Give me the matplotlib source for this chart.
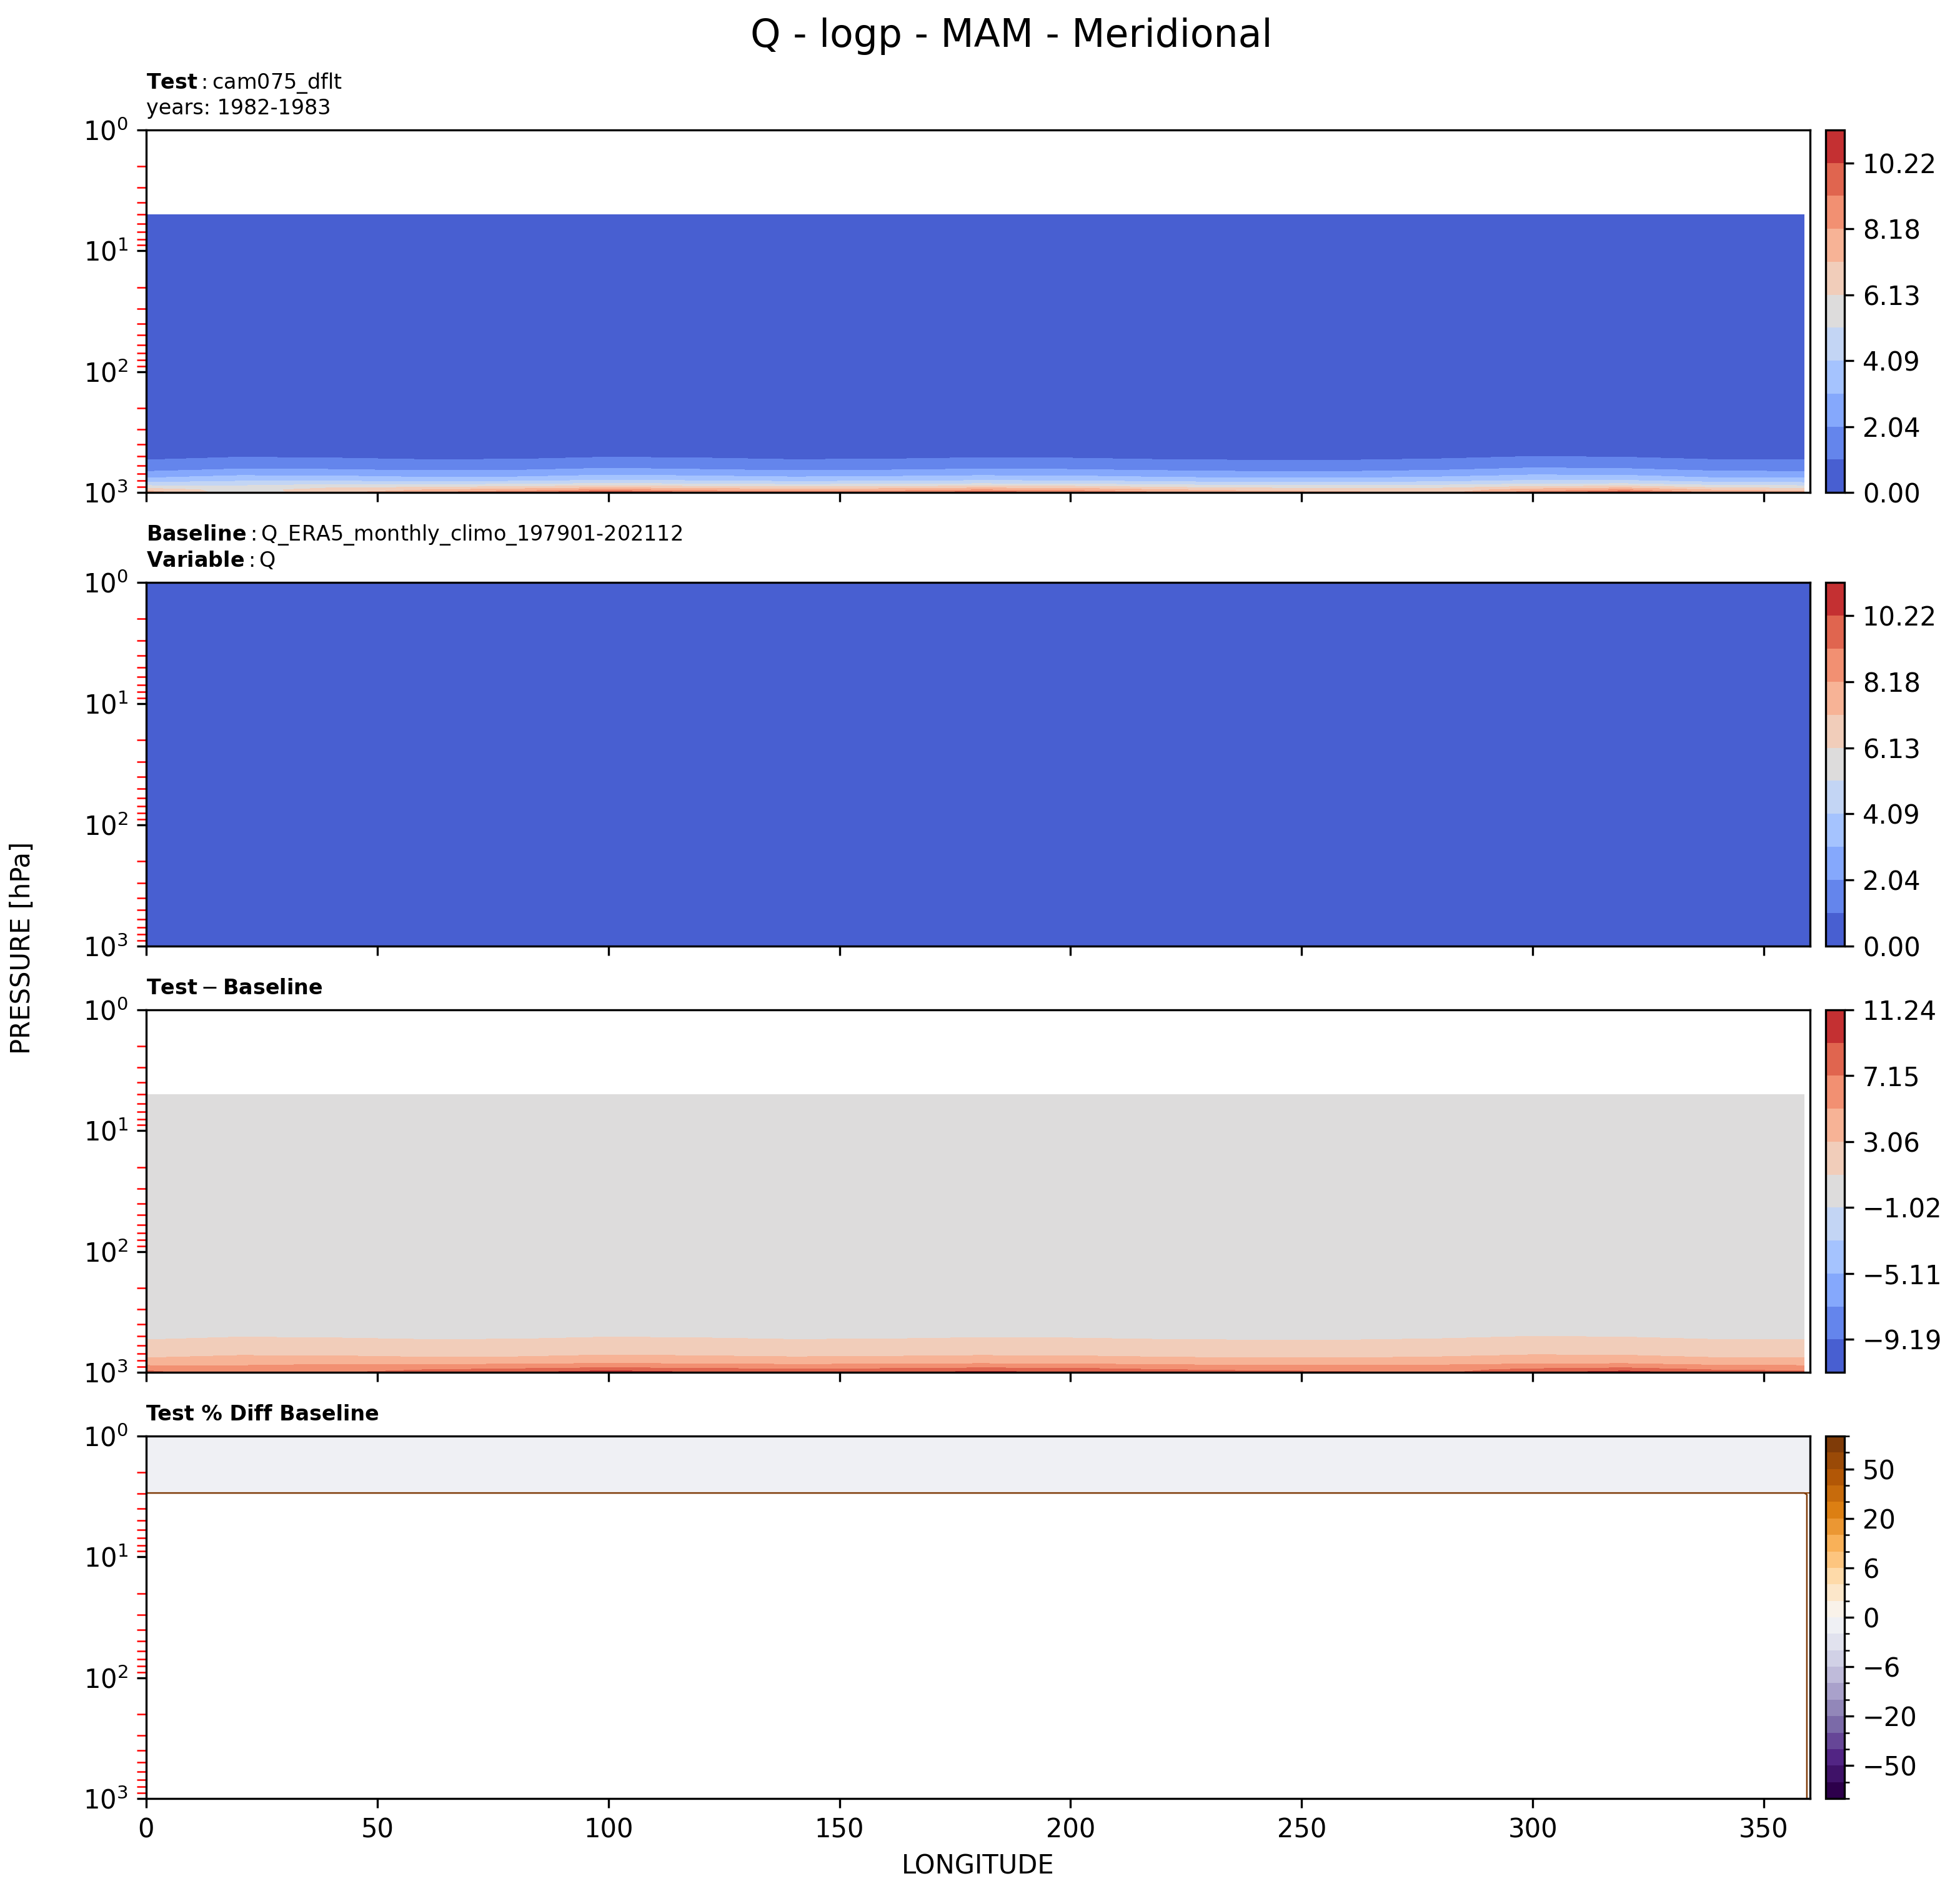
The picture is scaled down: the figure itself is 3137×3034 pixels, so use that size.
"""Meridional (longitude-pressure) section of specific humidity Q, MAM.

Test case vs ERA5 baseline, difference and percent difference.
"""

import sys

import numpy as np
import matplotlib
matplotlib.use("Agg")
import matplotlib.pyplot as plt
from matplotlib.colors import BoundaryNorm
from matplotlib.ticker import FuncFormatter

# --- test case (cam075_dflt), Q in g/kg -------------------------------------
test_lon = [0, 20, 40, 60, 80, 100, 120, 140, 160, 180,
            200, 220, 240, 260, 280, 300, 320, 340, 358.75]
test_lev = [5, 400, 500, 550, 600, 650, 700, 750, 800, 850, 900, 950, 1000]
# one list per longitude, values from 5 hPa down to 1000 hPa
test_q_by_lon = [
    [0.003, 0.35, 0.75, 1.11, 1.48, 1.85, 2.34, 2.95, 3.62, 4.51, 5.62, 6.75, 7.90],
    [0.003, 0.45, 0.95, 1.30, 1.70, 2.15, 2.75, 3.40, 4.00, 4.70, 5.40, 5.70, 5.30],
    [0.003, 0.42, 0.90, 1.25, 1.65, 2.10, 2.70, 3.35, 4.00, 4.95, 5.90, 6.60, 6.90],
    [0.003, 0.38, 0.82, 1.12, 1.52, 1.95, 2.50, 3.10, 3.85, 4.85, 6.00, 7.10, 8.20],
    [0.003, 0.38, 0.83, 1.14, 1.55, 2.00, 2.55, 3.15, 3.95, 5.00, 6.30, 7.60, 9.00],
    [0.003, 0.45, 0.95, 1.32, 1.75, 2.25, 2.85, 3.50, 4.25, 5.30, 6.70, 8.30, 10.60],
    [0.003, 0.42, 0.90, 1.25, 1.65, 2.10, 2.70, 3.35, 4.10, 5.10, 6.40, 7.80, 9.30],
    [0.003, 0.38, 0.82, 1.12, 1.52, 1.95, 2.50, 3.15, 3.90, 4.90, 6.20, 7.50, 8.80],
    [0.003, 0.40, 0.85, 1.15, 1.58, 2.02, 2.60, 3.25, 4.00, 5.00, 6.30, 7.70, 9.00],
    [0.003, 0.43, 0.92, 1.25, 1.68, 2.15, 2.75, 3.40, 4.15, 5.20, 6.60, 8.10, 9.80],
    [0.003, 0.42, 0.90, 1.22, 1.65, 2.10, 2.70, 3.35, 4.10, 5.10, 6.50, 7.90, 9.30],
    [0.003, 0.38, 0.82, 1.12, 1.52, 1.95, 2.50, 3.10, 3.85, 4.80, 6.00, 7.20, 8.30],
    [0.003, 0.36, 0.78, 1.08, 1.45, 1.85, 2.35, 2.95, 3.65, 4.55, 5.70, 6.80, 7.70],
    [0.003, 0.36, 0.78, 1.08, 1.45, 1.85, 2.35, 2.95, 3.65, 4.55, 5.70, 6.70, 7.40],
    [0.003, 0.40, 0.85, 1.18, 1.58, 2.00, 2.55, 3.15, 3.85, 4.70, 5.80, 6.60, 6.80],
    [0.003, 0.47, 1.00, 1.38, 1.80, 2.28, 2.88, 3.50, 4.20, 5.10, 6.30, 7.60, 8.80],
    [0.003, 0.45, 0.95, 1.30, 1.72, 2.20, 2.80, 3.45, 4.20, 5.20, 6.60, 8.20, 10.30],
    [0.003, 0.38, 0.80, 1.12, 1.50, 1.90, 2.42, 3.00, 3.70, 4.60, 5.80, 7.00, 8.00],
    [0.003, 0.36, 0.78, 1.10, 1.48, 1.85, 2.35, 2.95, 3.62, 4.50, 5.60, 6.70, 7.80],
]

# --- baseline (ERA5 climo), Q left in kg/kg -------------------------------------
base_lon = [0, 90, 180, 270, 360]
base_lev = [1, 10, 100, 300, 500, 700, 850, 1000]
base_q_by_lon = [
    [3e-6, 3e-6, 5e-6, 3.0e-4, 8.0e-4, 2.4e-3, 4.6e-3, 7.8e-3],
    [3e-6, 3e-6, 5e-6, 3.5e-4, 9.0e-4, 2.7e-3, 5.2e-3, 9.5e-3],
    [3e-6, 3e-6, 5e-6, 3.4e-4, 8.8e-4, 2.6e-3, 5.0e-3, 9.2e-3],
    [3e-6, 3e-6, 5e-6, 3.0e-4, 8.0e-4, 2.4e-3, 4.5e-3, 7.5e-3],
    [3e-6, 3e-6, 5e-6, 3.0e-4, 8.0e-4, 2.4e-3, 4.6e-3, 7.8e-3],
]

# --- percent difference, as drawn in the bottom panel -----------------------
pct_lon = [0, 358.75, 360]
pct_lev = [1, 2.95, 3.05, 1000]
pct_by_lev = [
    [-1.2, -1.2, -1.2],
    [-1.2, -1.2, -1.2],
    [1000.0, 1000.0, np.nan],
    [1000.0, 1000.0, np.nan],
]

# contour levels
q_max = 11.244
diff_max = 11.236
pct_levels = [-100, -75, -50, -40, -30, -20, -10, -8, -6, -4, -2, 0,
              2, 4, 6, 8, 10, 20, 30, 40, 50, 75, 100]
pct_ticks = [-50, -20, -6, 0, 6, 20, 50]

FIG_W, FIG_H = 3137, 3034
DPI = 300


def regrid(lon, lev, field, new_lon, new_lev):
    # linear in pressure first, then in longitude
    tmp = np.array([np.interp(new_lev, lev, field[:, j], left=np.nan, right=np.nan)
                    for j in range(len(lon))]).T
    return np.array([np.interp(new_lon, lon, row) for row in tmp])


def minus_fmt(fmt):
    return FuncFormatter(lambda v, pos: (fmt % v).replace("-", "\u2212"))


def style_axis(ax, show_xlabels):
    ax.set_yscale("log")
    ax.set_ylim(1000, 1)
    ax.set_xlim(0, 360)
    ax.set_xticks(np.arange(0, 351, 50))
    ax.tick_params(axis="y", which="minor", color="red", length=3.5)
    ax.tick_params(axis="x", labelbottom=show_xlabels)


def add_cbar(fig, cf, box, ticks, fmt, minor=None):
    cax = fig.add_axes([0.9315, box[1], 0.0094, box[3]])
    cb = fig.colorbar(cf, cax=cax, ticks=ticks, format=minus_fmt(fmt))
    if minor is not None:
        cb.set_ticks(minor, minor=True)
    return cb


def main() -> int:
    lon = np.array(test_lon)
    lev = np.array(test_lev)
    test_q = np.array(test_q_by_lon).T

    blon = np.array(base_lon)
    blev = np.array(base_lev)
    base_q = np.array(base_q_by_lon).T

    # baseline on the test grid, no unit conversion (kg/kg vs g/kg)
    base_on_test = regrid(blon, blev, base_q, lon, lev)
    diff = test_q - base_on_test

    pct = np.array(pct_by_lev)

    q_levels = np.linspace(0, q_max, 12)
    diff_levels = np.linspace(-diff_max, diff_max, 12)

    fig = plt.figure(figsize=(FIG_W / DPI, FIG_H / DPI))
    left, width = 234 / FIG_W, (2897 - 234) / FIG_W
    tops = [208, 932, 1616, 2298]
    bottoms = [788, 1514, 2196, 2878]
    boxes = [[left, 1 - b / FIG_H, width, (b - t) / FIG_H] for t, b in zip(tops, bottoms)]
    axes = [fig.add_axes(b) for b in boxes]

    # 1) test
    ax = axes[0]
    cf = ax.contourf(lon, lev, test_q, levels=q_levels, cmap="coolwarm")
    ax.set_title("$\\mathbf{Test}:$cam075_dflt\nyears: 1982-1983", loc="left", fontsize=8)
    add_cbar(fig, cf, boxes[0], q_levels[::2], "%.2f")

    # 2) baseline
    ax = axes[1]
    cf = ax.contourf(blon, blev, base_q, levels=q_levels, cmap="coolwarm")
    ax.set_title("$\\mathbf{Baseline}:$Q_ERA5_monthly_climo_197901-202112\n"
                 "$\\mathbf{Variable}:$Q", loc="left", fontsize=8)
    add_cbar(fig, cf, boxes[1], q_levels[::2], "%.2f")

    # 3) difference
    ax = axes[2]
    cf = ax.contourf(lon, lev, diff, levels=diff_levels, cmap="coolwarm")
    ax.set_title("$\\mathbf{Test} - \\mathbf{Baseline}$", loc="left", fontsize=8)
    add_cbar(fig, cf, boxes[2], diff_levels[1::2], "%.2f")

    # 4) percent difference
    ax = axes[3]
    cmap = plt.get_cmap("PuOr_r")
    norm = BoundaryNorm(pct_levels, cmap.N)
    cf = ax.contourf(pct_lon, pct_lev, np.ma.masked_invalid(pct),
                     levels=pct_levels, cmap=cmap, norm=norm)
    # outline of the out-of-range region
    ax.contour(pct_lon, pct_lev, np.nan_to_num(pct, nan=-1000.0), levels=[100],
               colors=[cmap(1.0)], linewidths=0.6)
    ax.set_title("Test % Diff Baseline", loc="left", fontsize=8, fontweight="bold")
    add_cbar(fig, cf, boxes[3], pct_ticks, "%d", minor=pct_levels)

    for i, ax in enumerate(axes):
        style_axis(ax, i == 3)
    axes[3].set_xlabel("LONGITUDE")

    fig.text(36 / FIG_W, 0.5, "PRESSURE [hPa]", rotation=90, ha="center", va="center")
    fig.text(1619 / FIG_W, 1 - 75 / FIG_H, "Q - logp - MAM - Meridional",
             ha="center", va="baseline", fontsize=14.8)

    fig.savefig("out.png", dpi=DPI)
    plt.close(fig)
    return 0


if __name__ == "__main__":
    sys.exit(main())
